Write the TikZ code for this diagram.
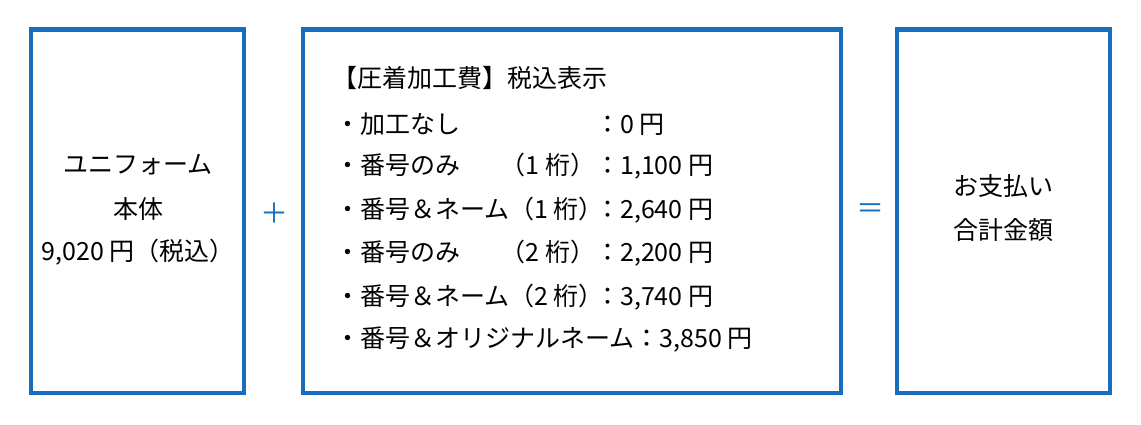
\documentclass[tikz,border=0pt]{standalone}
\usepackage{fontspec}
\setmainfont{Noto Sans CJK JP}
\usetikzlibrary{positioning}
\definecolor{frameblue}{RGB}{24,110,190}
\tikzset{
  panel/.style={draw=frameblue,line width=4.5pt,inner sep=0pt},
  txt/.style={font=\fontsize{25}{25}\selectfont,inner sep=0pt},
  sign/.style={text=frameblue,font=\fontsize{28}{28}\selectfont,inner sep=0pt}
}

\begin{document}
\begin{tikzpicture}[x=1pt,y=-1pt]
  \useasboundingbox (0,0) rectangle (1141,424);
  % the three panels
  \node[panel,minimum width=213pt,minimum height=363.5pt] (body) at (137.5,211.25) {};
  \node[panel,minimum width=538pt,minimum height=363.5pt] (fee) at (572,211.25) {};
  \node[panel,minimum width=213pt,minimum height=363.5pt] (total) at (1003.5,211.25) {};
  % signs
  \node[sign] (plus) at (274.5,213) {＋};
  \node[sign] (equal) at (870,211) {＝};
  % left panel
  \node[txt] (bodyA) at (138,165) {ユニフォーム};
  \node[txt] (bodyB) at (138,209) {本体};
  \node[txt] (bodyC) at (138,252) {9,020 円（税込）};
  % right panel
  \node[txt] (totalA) at (1003.5,186) {お支払い};
  \node[txt] (totalB) at (1003.5,230) {合計金額};
  % fee list
  \node[txt,anchor=west] (feeT) at (332,78) {【圧着加工費】税込表示};
  \foreach \y/\lbl/\dig/\cost [count=\i] in
    {124/{・加工なし}/{}/{0},
     166/{・番号のみ}/{（1 桁）}/{1,100},
     210/{・番号＆ネーム}/{（1 桁）}/{2,640},
     253/{・番号のみ}/{（2 桁）}/{2,200},
     297/{・番号＆ネーム}/{（2 桁）}/{3,740}}
    \node[txt,anchor=west] (fee\i) at (335,\y) {\makebox[260pt][l]{\lbl\hfill\dig}：\cost{} 円};
  \node[txt,anchor=west] (fee6) at (335,340) {・番号＆オリジナルネーム：3,850 円};
\end{tikzpicture}
\end{document}
